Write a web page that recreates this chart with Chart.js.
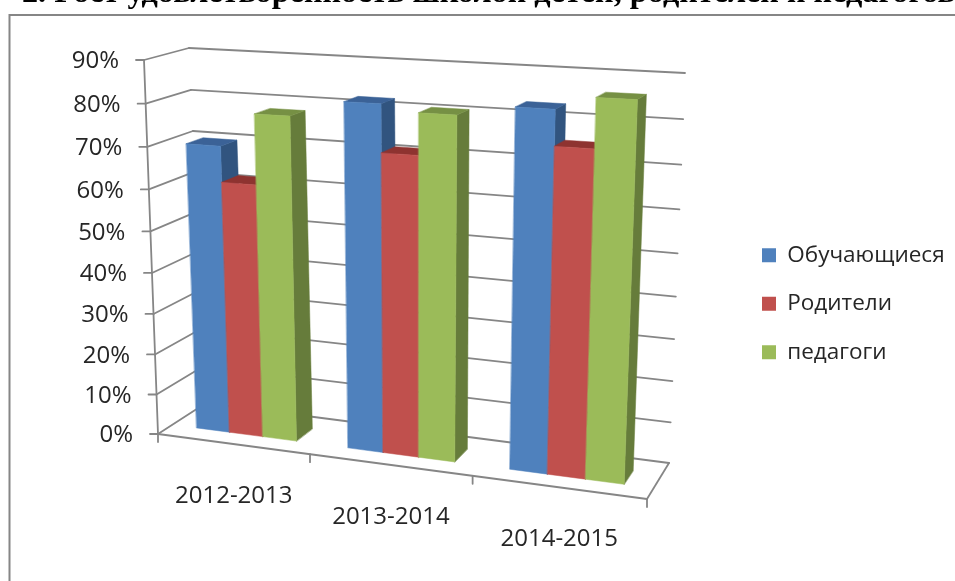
<!DOCTYPE html>
<html><head><meta charset="utf-8">
<style>html,body{margin:0;padding:0;background:#fff}canvas{display:block;filter:blur(0.4px)}</style>
<script src="https://cdn.jsdelivr.net/npm/chart.js@4"></script></head>
<body><canvas id="c" width="955" height="581"></canvas>
<script>
const titleText = "2. Рост удовлетворенность школой детей, родителей и педагогов";
const categories = ["2012-2013", "2013-2014", "2014-2015"];
const students = [70, 82, 83];
const parents = [61.5, 71, 75];
const teachers = [78, 80.5, 86];
const seriesNames = ["Обучающиеся", "Родители", "педагоги"];

const FONT = '"Open Sans", sans-serif';
const INK = '#262626', LINE = '#868686';
const faces = [
  {front:'#4F81BD', top:'#3B6297', side:'#31547F'},
  {front:'#C0504D', top:'#8E3330', side:'#8B3A38'},
  {front:'#9BBB59', top:'#769044', side:'#667C3B'}
];
function quad(p00,p10,p01,p11){ // (u,v): p00 bottom-left, p10 bottom-right, p01 top-left, p11 top-right
  const sx=p00[0]-p10[0]+p11[0]-p01[0], sy=p00[1]-p10[1]+p11[1]-p01[1];
  const dx1=p10[0]-p11[0], dx2=p01[0]-p11[0], dy1=p10[1]-p11[1], dy2=p01[1]-p11[1];
  const den=dx1*dy2-dx2*dy1;
  const g=(sx*dy2-dx2*sy)/den, h=(dx1*sy-sx*dy1)/den;
  const a=p10[0]-p00[0]+g*p10[0], b=p01[0]-p00[0]+h*p01[0], c=p00[0];
  const d=p10[1]-p00[1]+g*p10[1], e=p01[1]-p00[1]+h*p01[1], f=p00[1];
  return (u,v)=>{const q=g*u+h*v+1;return [(a*u+b*v+c)/q,(d*u+e*v+f)/q];};
}
const frontPlane = quad([158,434],[647,499],[144,60],[663,86]);
const backPlane  = quad([206,403],[669,463],[189,48],[685,73]);
function P(u,v,w){const a=frontPlane(u,v),b=backPlane(u,v);return [a[0]+(b[0]-a[0])*w,a[1]+(b[1]-a[1])*w];}
function seg(ctx,a,b){ctx.beginPath();ctx.moveTo(a[0],a[1]);ctx.lineTo(b[0],b[1]);ctx.stroke();}
function poly(ctx,pts,fill){ctx.fillStyle=fill;ctx.strokeStyle=fill;ctx.lineWidth=0.5;ctx.beginPath();pts.forEach((p,i)=>i?ctx.lineTo(p[0],p[1]):ctx.moveTo(p[0],p[1]));ctx.closePath();ctx.fill();ctx.stroke();}

const scene3d = {
  id:'scene3d',
  afterLayout(chart){
    const l=chart.legend; const pad=l.options.labels.padding;
    const dx=762-(l.left+pad); l.left+=dx; l.right+=dx;
    const dy=244-(l.top+pad); l.top+=dy; l.bottom+=dy;
  },
  beforeDatasetsDraw(chart){
    const ctx=chart.ctx, area=chart.chartArea, xs=chart.scales.x, ys=chart.scales.y;
    const U=x=>(x-area.left)/area.width, V=y=>(area.bottom-y)/area.height;
    ctx.save();
    ctx.lineCap='round';
    // frame
    ctx.strokeStyle=LINE;ctx.lineWidth=2;
    ctx.beginPath();ctx.moveTo(9.5,581);ctx.lineTo(9.5,15);ctx.lineTo(955,15);ctx.stroke();
    // walls and value axis
    ctx.lineWidth=1.8;
    ys.ticks.forEach(t=>{
      const v=V(ys.getPixelForValue(t.value));
      const a=P(0,v,0),b=P(0,v,1),c=P(1,v,1);
      ctx.strokeStyle=LINE;
      seg(ctx,[a[0]-8,a[1]],a);seg(ctx,a,b);seg(ctx,b,c);
      ctx.fillStyle=INK;ctx.font='24px '+FONT;ctx.textAlign='right';ctx.textBaseline='middle';
      ctx.fillText(ys.getLabelForValue(t.value)+'%',a[0]-25,a[1]+1.5);
    });
    const y0=P(0,0,0),y1=P(0,1,0),x1=P(1,0,0);
    ctx.strokeStyle=LINE;
    seg(ctx,y1,y0);seg(ctx,y0,x1);seg(ctx,x1,P(1,0,1));
    // category axis
    const step=xs.width/categories.length;
    for(let i=0;i<=categories.length;i++){
      const px=P(U(xs.left+i*step),0,0);
      seg(ctx,px,[px[0],px[1]+8]);
    }
    categories.forEach((c,i)=>{
      const px=P(U(xs.getPixelForValue(i)),0,0);
      ctx.fillStyle=INK;ctx.font='24px '+FONT;ctx.textAlign='center';ctx.textBaseline='middle';
      ctx.fillText(c,px[0]+1,px[1]+52);
    });
    // bars, left to right
    const W0=0.3,W1=0.68;
    categories.forEach((c,i)=>{
      chart.data.datasets.forEach((ds,d)=>{
        const el=chart.getDatasetMeta(d).data[i];
        const u0=U(el.x-el.width/2),u1=U(el.x+el.width/2),v=V(el.y),b=V(el.base);
        const f=faces[d];
        poly(ctx,[P(u1,b,W0),P(u1,v,W0),P(u1,v,W1),P(u1,b,W1)],f.side);
        poly(ctx,[P(u0,v,W0),P(u1,v,W0),P(u1,v,W1),P(u0,v,W1)],f.top);
        poly(ctx,[P(u0,b,W0),P(u1,b,W0),P(u1,v,W0),P(u0,v,W0)],f.front);
      });
    });
    ctx.restore();
    return false;
  }
};

new Chart(document.getElementById('c'),{
  type:'bar',
  data:{labels:categories,datasets:[
    {label:seriesNames[0],data:students,backgroundColor:faces[0].front},
    {label:seriesNames[1],data:parents,backgroundColor:faces[1].front},
    {label:seriesNames[2],data:teachers,backgroundColor:faces[2].front}
  ]},
  options:{
    responsive:false,animation:false,
    layout:{padding:{left:22,right:0,top:0,bottom:0}},
    datasets:{bar:{categoryPercentage:0.667,barPercentage:1}},
    scales:{
      x:{display:false},
      y:{display:false,min:0,max:90,ticks:{stepSize:10}}
    },
    plugins:{
      tooltip:{enabled:false},
      title:{display:true,text:titleText,align:'start',color:'#000',
        font:{family:'"Liberation Serif",serif',size:32.4,weight:'bold',lineHeight:1.2},padding:{top:-26,bottom:0}},
      legend:{position:'right',align:'start',
        labels:{color:INK,font:{family:FONT,size:22.5},boxWidth:14,boxHeight:14,padding:26}}
    }
  },
  plugins:[scene3d]
});
</script></body></html>
